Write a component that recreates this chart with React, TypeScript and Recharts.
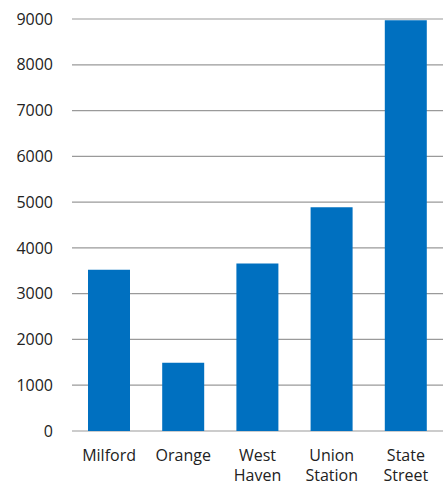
import React from "react";
import { BarChart, Bar, XAxis, YAxis, CartesianGrid } from "recharts";

const stations = ["Milford", "Orange", "West Haven", "Union Station", "State Street"];
const riders = [3520, 1490, 3660, 4890, 8970];
const yTicks = [0, 1000, 2000, 3000, 4000, 5000, 6000, 7000, 8000, 9000];

const data = stations.map((name, i) => ({ name, riders: riders[i] }));

const FONT = "'Open Sans', 'DejaVu Sans', sans-serif";

function StationTick({ x, y, payload }: any) {
  const lines = String(payload.value).split(" ");
  return (
    <text x={x} y={y} textAnchor="middle" fill="#222" fontSize={16} fontFamily={FONT}>
      {lines.map((ln, i) => (
        <tspan key={i} x={x} dy={i === 0 ? 30 : 20}>
          {ln}
        </tspan>
      ))}
    </text>
  );
}

export default function App() {
  return (
    <div style={{ position: "absolute", left: 0, top: 0, width: 446, height: 486, background: "#fff" }}>
      <BarChart
        width={446}
        height={486}
        data={data}
        margin={{ top: 19, right: 3, bottom: 0, left: 0 }}
        style={{ fontFamily: FONT }}
      >
        <CartesianGrid vertical={false} stroke="#9a9a9a" strokeWidth={1.2} />
        <XAxis
          dataKey="name"
          height={55}
          axisLine={false}
          tickLine={false}
          tickSize={0}
          tickMargin={0}
          interval={0}
          tick={<StationTick />}
        />
        <YAxis
          width={72}
          domain={[0, 9000]}
          ticks={yTicks}
          axisLine={false}
          tickLine={false}
          tickSize={0}
          tickMargin={19}
          tick={{ fill: "#222", fontSize: 16, fontFamily: FONT }}
        />
        <Bar dataKey="riders" fill="#0070C0" barSize={42} isAnimationActive={false} />
      </BarChart>
    </div>
  );
}
